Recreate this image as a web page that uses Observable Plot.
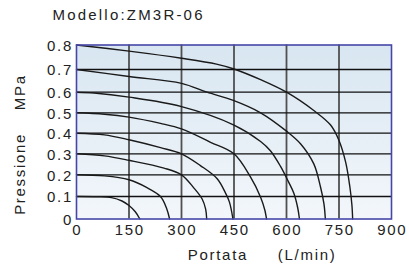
<!DOCTYPE html>
<html>
<head>
<meta charset="utf-8">
<script src="https://cdn.jsdelivr.net/npm/d3@7"></script>
<script src="https://cdn.jsdelivr.net/npm/@observablehq/plot@0.6"></script>
<style>
  html, body { margin: 0; padding: 0; background: #fff; }
</style>
</head>
<body>
<div id="chart"></div>
<script>
const title = "Modello:ZM3R-06";
const xLabelA = "Portata";
const xLabelB = "(L/min)";
const yLabelA = "Pressione";
const yLabelB = "MPa";
const xTicks = [0, 150, 300, 450, 600, 750, 900];
const yTicks = [0, 0.1, 0.2, 0.3, 0.4, 0.5, 0.6, 0.7, 0.8];
const yTickLabels = ["0", "0.1", "0.2", "0.3", "0.4", "0.5", "0.6", "0.7", "0.8"];

// [flow L/min, pressure MPa]
const curve01 = [[0,0.1],[60,0.099],[100,0.095],[130,0.08],[150,0.06],[168,0.032],[181,0]];
const curve02 = [[0,0.2],[80,0.195],[150,0.177],[200,0.142],[240,0.1],[258,0.045],[266,0]];
const curve03 = [[0,0.3],[80,0.29],[150,0.269],[250,0.232],[300,0.2],[335,0.14],[359,0.089],[369,0.044],[372,0]];
const curve04 = [[0,0.4],[80,0.392],[150,0.368],[240,0.33],[300,0.3],[354,0.244],[402,0.182],[426,0.115],[437,0.075],[447,0]];
const curve05 = [[0,0.5],[80,0.493],[150,0.479],[240,0.448],[300,0.421],[383,0.356],[450,0.3],[497,0.19],[526,0.097],[538,0.04],[543,0]];
const curve06 = [[0,0.6],[50,0.596],[150,0.576],[300,0.53],[450,0.44],[526,0.36],[554,0.315],[583,0.24],[605,0.17],[621,0.115],[632,0.05],[637,0]];
const curve07 = [[0,0.7],[150,0.669],[300,0.639],[373,0.6],[448,0.56],[526,0.5],[600,0.41],[640,0.349],[678,0.252],[697,0.145],[707,0.067],[711,0]];
const curve08 = [[0,0.8],[150,0.775],[300,0.746],[400,0.722],[450,0.702],[526,0.655],[600,0.6],[678,0.511],[726,0.44],[750,0.365],[769,0.26],[781,0.145],[787,0.06],[789,0]];

const curves = [curve01, curve02, curve03, curve04, curve05, curve06, curve07, curve08];

// the original chart's pressure grid is slightly uneven; this is where each
// gridline value sits along a linear 0–0.8 axis in the picture
const yGridPlace = [0, 0.1034, 0.2032, 0.2998, 0.3945, 0.4883, 0.583, 0.6874, 0.8];
const yWarp = d3.scaleLinear().domain(yTicks).range(yGridPlace);

const ink = "#222";
const chart = Plot.plot({
  width: 409,
  height: 264,
  marginLeft: 76,
  marginRight: 18,
  marginTop: 44.5,
  marginBottom: 45.5,
  style: {fontFamily: "'Liberation Sans', Arial, sans-serif", fontSize: "15px", color: ink, background: "#fff", overflow: "visible", letterSpacing: "1.7px"},
  x: {domain: [0, 900]},
  y: {domain: [0, 0.8], transform: yWarp},
  marks: [
    Plot.frame({fill: "url(#bgGrad)", stroke: "none"}),
    Plot.ruleX(xTicks.slice(1, -1), {stroke: "#505050", strokeWidth: 1.8}),
    Plot.ruleY(yTicks.slice(1, -1), {stroke: "#111", strokeWidth: 1.3}),
    ...curves.map(c => Plot.line(c, {x: d => d[0], y: d => d[1], curve: "catmull-rom", stroke: "#1a1a1a", strokeWidth: 1.4})),
    Plot.frame({stroke: "#4646a8", strokeWidth: 1.6}),
    Plot.axisX(xTicks, {tickSize: 0, tickPadding: 5, label: null, fontSize: 15, fill: ink, dx: 0.8}),
    Plot.axisY(yTicks, {tickSize: 0, tickPadding: 3.5, label: null, fontSize: 15, fill: ink, dy: 1, tickFormat: (d, i) => yTickLabels[i]}),
    Plot.text([title], {x: -68.6, y: 0.92, textAnchor: "start", fontSize: 15, fill: ink}),
    Plot.text([xLabelA], {x: 404, y: -0.163, fontSize: 15, fill: ink}),
    Plot.text([xLabelB], {x: 659, y: -0.163, fontSize: 15, fill: ink}),
    Plot.text([yLabelA], {x: -160, y: 0.2046, rotate: -90, fontSize: 15, fill: ink}),
    Plot.text([yLabelB], {x: -160, y: 0.6, rotate: -90, fontSize: 15, fill: ink})
  ]
});

const svg = d3.select(chart);
svg.selectAll("text").filter(function() { return this.textContent === title; }).style("letter-spacing", "2.2px");
const defs = svg.insert("defs", ":first-child");
const grad = defs.append("linearGradient").attr("id", "bgGrad").attr("x1", 0).attr("y1", 0).attr("x2", 0).attr("y2", 1);
grad.append("stop").attr("offset", "0%").attr("stop-color", "#d8e6f1");
grad.append("stop").attr("offset", "100%").attr("stop-color", "#f3f7fb");

document.getElementById("chart").appendChild(chart);
</script>
</body>
</html>
